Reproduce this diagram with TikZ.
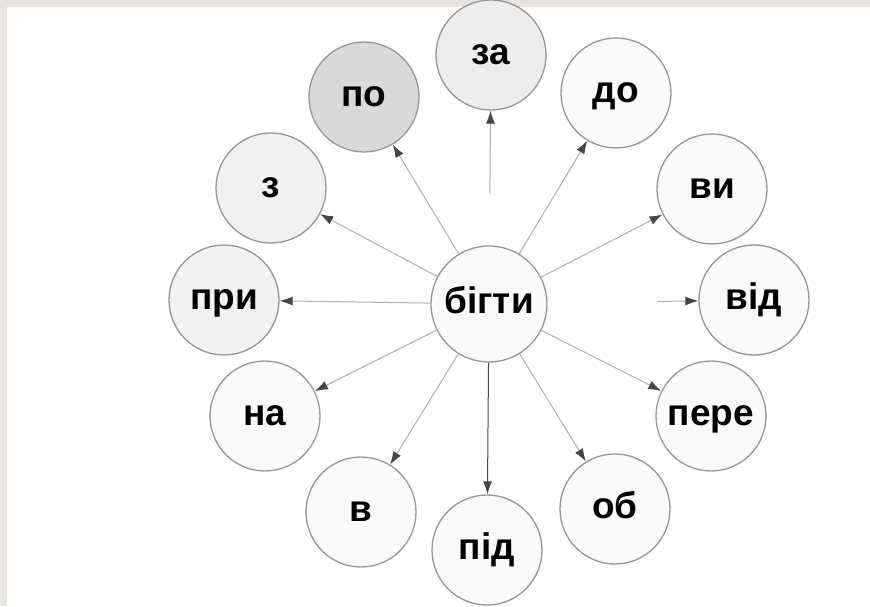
\documentclass[tikz,border=0pt]{standalone}
\usepackage{fontspec}
\setmainfont{Liberation Sans}
\usetikzlibrary{shapes,arrows.meta,backgrounds}

\definecolor{framegray}{RGB}{232,228,225}
\definecolor{ringgray}{RGB}{150,150,150}
\definecolor{linegray}{RGB}{175,175,175}
\definecolor{tipgray}{RGB}{70,70,70}

\begin{document}
\begin{tikzpicture}[x=1pt,y=1pt,every node/.style={draw=ringgray,line width=1.3pt,shape=circle,fill=gray!4,minimum size=110pt,inner sep=0pt,text height=19pt,text depth=0pt,font=\fontsize{37}{40}\selectfont\bfseries}]

  \useasboundingbox (0,0) rectangle (870,606);
  \fill[framegray] (0,0) rectangle (870,606);
  \fill[white] (7,0) rectangle (870,599);

  % Specification of nodes (position, etc.)
  \node[minimum size=116pt] (bigty) at (489,302) {бігти};
  \node[fill=gray!14] (za) at (491,551) {за};
  \node[fill=gray!30] (po) at (364,509) {по};
  \node (do) at (616,513) {до};
  \node[fill=gray!12] (z) at (271,418) {з};
  \node (vy) at (712,417) {ви};
  \node[fill=gray!10] (pry) at (224,306) {при};
  \node (vid) at (754,306) {від};
  \node (na) at (265,190) {на};
  \node (pere) at (711,190) {пере};
  \node (v) at (361,94) {в};
  \node (ob) at (615,97) {об};
  \node (pid) at (487,56) {під};

  \begin{scope}[-{Latex[length=13pt,width=9pt,color=tipgray]},line width=1pt,draw=linegray]
    \tikzstyle{every node}=[draw=none,below]
    \draw[shorten <=52pt] (bigty) to (za);
    \draw (bigty) to (po);
    \draw (bigty) to (do);
    \draw (bigty) to (z);
    \draw (bigty) to (vy);
    \draw (bigty) to (pry);
    \draw[shorten <=110pt] (bigty) to (vid);
    \draw (bigty) to (na);
    \draw (bigty) to (pere);
    \draw (bigty) to (v);
    \draw (bigty) to (ob);
    \draw[draw=tipgray] (bigty) to (pid);
  \end{scope}

\end{tikzpicture}
\end{document}
